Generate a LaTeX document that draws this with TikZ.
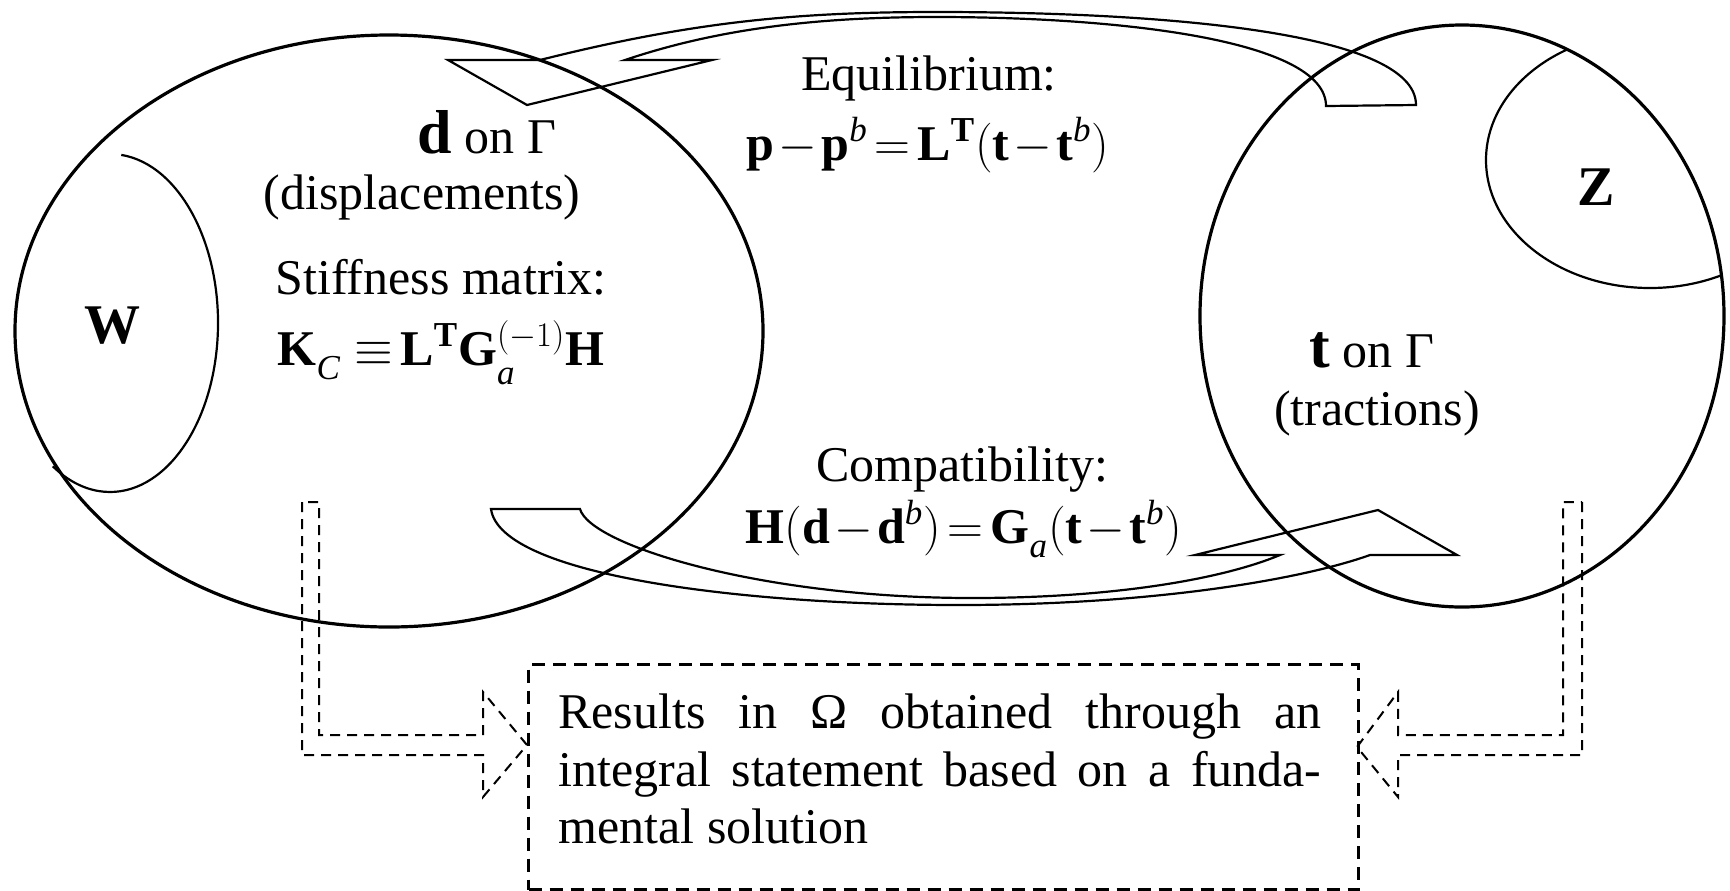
\documentclass[tikz,border=0pt]{standalone}
\usepackage{fontspec}
\setmainfont{Liberation Serif}
\tikzset{
  thickline/.style={line width=1.6pt},
  thinline/.style={line width=1.1pt},
  arrowline/.style={line width=1.1pt, line join=miter},
  dasharrow/.style={line width=1pt, dash pattern=on 5pt off 3.5pt},
  boxline/.style={line width=1.5pt, dash pattern=on 6.5pt off 4pt},
  lbl/.style={font=\fontsize{25}{28.75}\selectfont, inner sep=0pt},
  bigletter/.style={font=\fontsize{28}{30}\selectfont\bfseries, inner sep=0pt},
}
\newcommand{\bigbold}[1]{{\fontsize{31}{31}\selectfont\bfseries #1}}
\newcommand{\tightmath}[1]{$\medmuskip=1.5mu\relax\thickmuskip=2.5mu\relax #1$}
\newcommand{\lsub}[1]{\lower3.5pt\hbox{$\scriptstyle\mathit{#1}$}}
\begin{document}
\begin{tikzpicture}[x=0.5pt,y=-0.5pt]
\useasboundingbox (0,0) rectangle (1730,890);

% big regions
\draw[thickline] (389,331) ellipse [x radius=374, y radius=296];
\draw[thickline] (1462,316) ellipse [x radius=262, y radius=291];

% W sub-region
\draw[thinline] (121.3,154.9) arc[start angle=-84, end angle=122, x radius=108, y radius=169];
% Z sub-region
\begin{scope}
  \clip (1462,316) ellipse [x radius=262, y radius=291];
  \draw[thinline] (1650,160) ellipse [x radius=164, y radius=128];
\end{scope}

% top curved arrow (equilibrium)
\coordinate (th) at (527,105);
\draw[arrowline] (448,60) -- (540,60)
  .. controls (695,21) and (800,12) .. (936,12)
  .. controls (1150,12) and (1416,30) .. (1416,105)
  -- (1326,106)
  .. controls (1326,40) and (1120,17) .. (936,17)
  .. controls (820,17) and (720,28) .. (625,60)
  -- (712,60) -- (th) -- cycle;

% bottom curved arrow (compatibility)
\coordinate (bh) at (1378,510);
\draw[arrowline] (491,509) -- (580,509)
  .. controls (590,545) and (760,598) .. (972,598)
  .. controls (1110,598) and (1220,580) .. (1280,555)
  -- (1195,555) -- (bh) -- (1457,555) -- (1370,555)
  .. controls (1300,580) and (1150,605) .. (959,605)
  .. controls (740,605) and (500,575) .. (491,509) -- cycle;

% result box
\node[boxline, draw, minimum width=415pt, minimum height=112.5pt, inner sep=0pt, anchor=north west] (resbox) at (527,663) {};
\node[lbl, anchor=north west, align=left] (restext) at (558,693.5)
  {\makebox[381.5pt][s]{Results in Ω obtained through an}\\
   \makebox[381.5pt][s]{integral statement based on a funda-}\\
   mental solution};

% dashed arrows
\coordinate (lt) at (527,745);
\coordinate (rt) at (1357,747);
\draw[dasharrow] (302,502) -- (302,755) -- (483,755) -- (483,797) -- (lt)
  -- (483,692) -- (483,735) -- (319,735) -- (319,502) -- cycle;
\draw[dasharrow] (1582,502) -- (1582,755) -- (1398,755) -- (1398,797) -- (rt)
  -- (1398,692) -- (1398,735) -- (1563,735) -- (1563,502) -- cycle;

% labels
\node[bigletter, anchor=base] (W) at (112,343) {W};
\node[bigletter, anchor=base] (Z) at (1596,205) {Z};
\node[lbl, anchor=base] (don) at (487,153) {\bigbold{d} on Γ};
\node[lbl, anchor=base] (disp) at (422,209) {(displacements)};
\node[lbl, anchor=base] (stiff) at (441,294) {Stiffness matrix:};
\node[lbl, anchor=base] (kc) at (441,365) {\tightmath{\mathbf{K}_{\lsub{C}}\;\equiv\mathbf{L}^{\mathbf{T}}\mathbf{G}_{\lsub{a}}^{(-1)}\mathbf{H}}};
\node[lbl, anchor=base] (ton) at (1372,367) {\bigbold{t} on Γ};
\node[lbl, anchor=base] (trac) at (1377,425) {(tractions)};
\node[lbl, anchor=base] (eq) at (929,90) {Equilibrium:};
\node[lbl, anchor=base] (eqf) at (928,160) {\tightmath{\mathbf{p}-\mathbf{p}^{\mathit{b}}=\mathbf{L}^{\mathbf{T}}(\mathbf{t}-\mathbf{t}^{\mathit{b}})}};
\node[lbl, anchor=base] (comp) at (962,481) {Compatibility:};
\node[lbl, anchor=base] (compf) at (964,543) {\tightmath{\mathbf{H}(\mathbf{d}-\mathbf{d}^{\mathit{b}})=\mathbf{G}_{\lsub{a}}(\mathbf{t}-\mathbf{t}^{\mathit{b}})}};
\end{tikzpicture}
\end{document}
